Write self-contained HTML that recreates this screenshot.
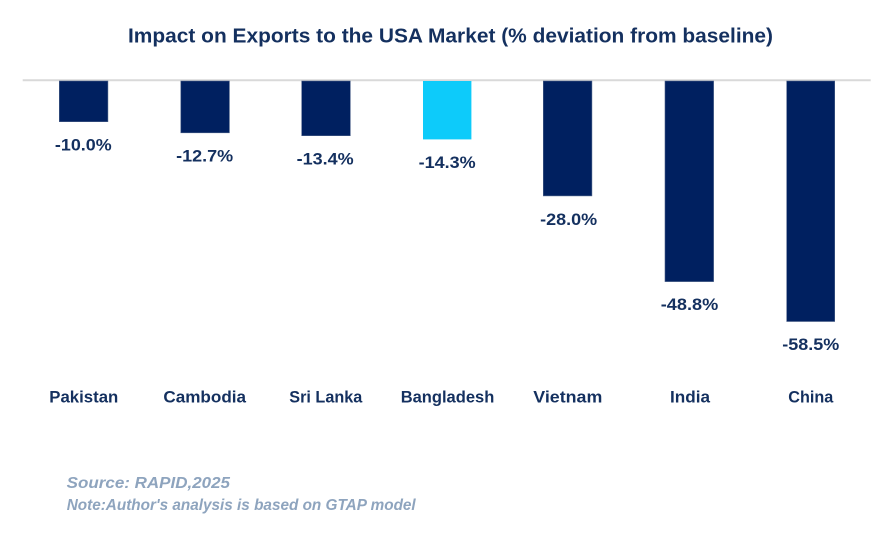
<!DOCTYPE html>
<html>
<head>
<meta charset="utf-8">
<style>
html,body{margin:0;padding:0;background:#fff;}
svg{display:block;}
text{font-family:"Liberation Sans",Arial,sans-serif;}
</style>
</head>
<body>
<svg width="895" height="559" viewBox="0 0 895 559" xmlns="http://www.w3.org/2000/svg">
<rect width="895" height="559" fill="#fff"/>
<text x="450.5" y="42.7" text-anchor="middle" font-size="20" font-weight="bold" fill="#14305F" textLength="645" lengthAdjust="spacingAndGlyphs">Impact on Exports to the USA Market (% deviation from baseline)</text>
<line x1="22.7" y1="80.2" x2="870.7" y2="80.2" stroke="#D9D9D9" stroke-width="2"/>
<g fill="#002060" stroke="#4A5F88" stroke-width="0.6">
<rect x="59.3" y="81" width="48.6" height="40.7"/>
<rect x="180.8" y="81" width="48.6" height="51.8"/>
<rect x="301.7" y="81" width="48.6" height="54.7"/>
<rect x="543.3" y="81" width="48.6" height="114.9"/>
<rect x="665.0" y="81" width="48.6" height="200.6"/>
<rect x="786.7" y="81" width="48.0" height="240.5"/>
</g>
<rect x="423" y="81" width="48.4" height="58.4" fill="#0DCBFA"/>
<g font-size="17" font-weight="bold" fill="#14305F" text-anchor="middle">
<text x="83.3" y="150.6" textLength="56.7" lengthAdjust="spacingAndGlyphs">-10.0%</text>
<text x="204.7" y="161.7" textLength="57" lengthAdjust="spacingAndGlyphs">-12.7%</text>
<text x="325.2" y="164.5" textLength="57" lengthAdjust="spacingAndGlyphs">-13.4%</text>
<text x="447.2" y="168.2" textLength="57" lengthAdjust="spacingAndGlyphs">-14.3%</text>
<text x="568.7" y="225" textLength="57" lengthAdjust="spacingAndGlyphs">-28.0%</text>
<text x="689.5" y="310.2" textLength="57.5" lengthAdjust="spacingAndGlyphs">-48.8%</text>
<text x="810.8" y="350.2" textLength="57" lengthAdjust="spacingAndGlyphs">-58.5%</text>
</g>
<g font-size="17" font-weight="bold" fill="#14305F" text-anchor="middle">
<text x="83.8" y="402.3" textLength="69" lengthAdjust="spacingAndGlyphs">Pakistan</text>
<text x="204.7" y="402.3" textLength="82.7" lengthAdjust="spacingAndGlyphs">Cambodia</text>
<text x="325.8" y="402.3" textLength="73" lengthAdjust="spacingAndGlyphs">Sri Lanka</text>
<text x="447.5" y="402.3" textLength="93.6" lengthAdjust="spacingAndGlyphs">Bangladesh</text>
<text x="567.8" y="402.3" textLength="69" lengthAdjust="spacingAndGlyphs">Vietnam</text>
<text x="690" y="402.3" textLength="40" lengthAdjust="spacingAndGlyphs">India</text>
<text x="810.8" y="402.3" textLength="45" lengthAdjust="spacingAndGlyphs">China</text>
</g>
<g font-weight="bold" font-style="italic" fill="#8EA4BE">
<text x="66.7" y="488" font-size="16" textLength="163.3" lengthAdjust="spacingAndGlyphs">Source: RAPID,2025</text>
<text x="66.7" y="510" font-size="15.5" textLength="349" lengthAdjust="spacingAndGlyphs">Note:Author's analysis is based on GTAP model</text>
</g>
</svg>
</body>
</html>
